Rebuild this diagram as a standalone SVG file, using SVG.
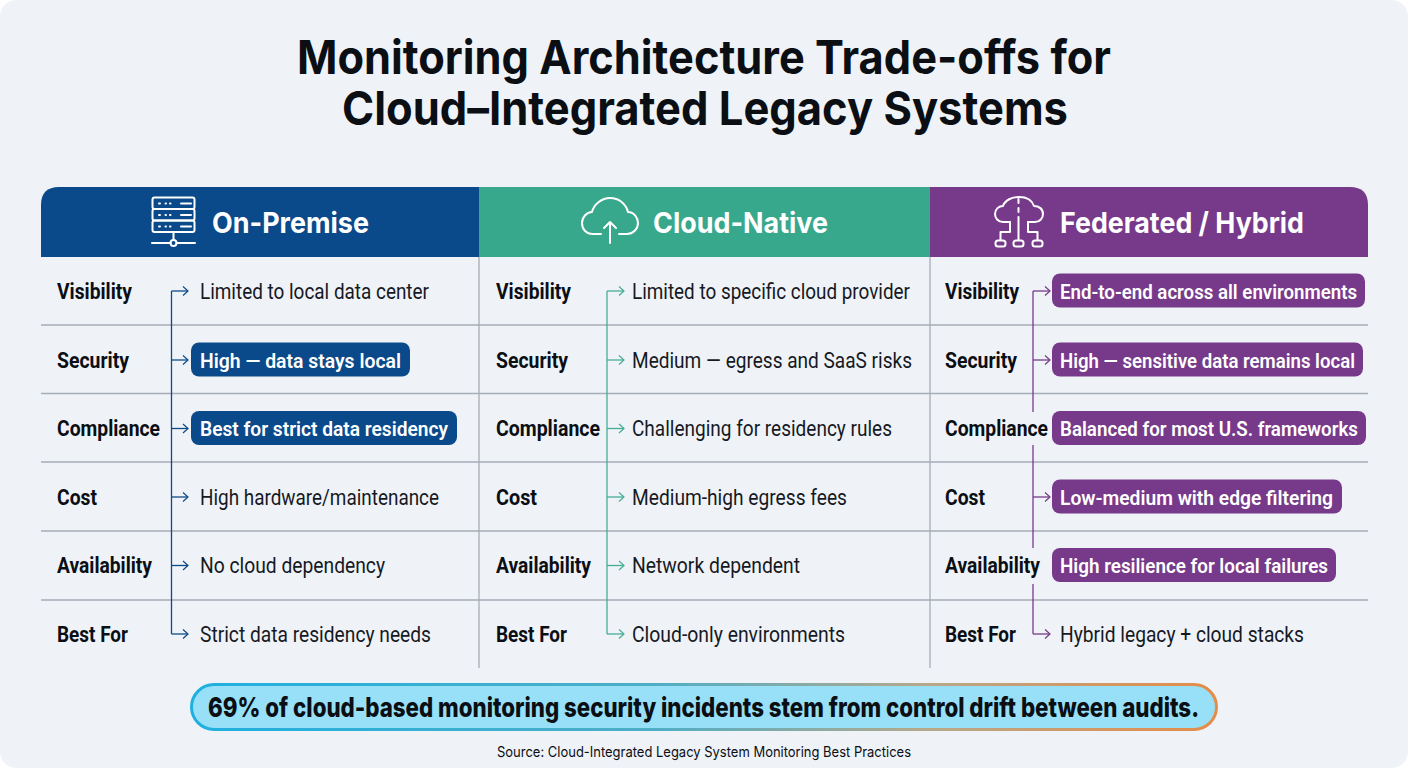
<svg xmlns="http://www.w3.org/2000/svg" width="1408" height="768" viewBox="0 0 1408 768">
<style>
text{font-family:Inter,"Liberation Sans",sans-serif;fill:#0b0f14}
.t{font-size:47px;font-weight:700}
.h{font-size:29px;font-weight:700;fill:#fff}
.l,.v,.p{font-family:Roboto,"Liberation Sans",sans-serif;font-size:21.500px}
.l{font-weight:700}
.v{font-weight:400;fill:#16191f}
.p{font-weight:600;fill:#fff;font-size:21px}
.gl{stroke:#a6acb6;stroke-width:1.300;fill:none}
.ic{fill:none;stroke:#fff;stroke-width:2;stroke-linecap:round;stroke-linejoin:round}
.cb{fill:none;stroke-width:1.300}
.b{stroke:#0d4a88}.g{stroke:#46ad95}.u{stroke:#763a8a}
.bp{fill:#0a4a8a}.up{fill:#773a8a}
</style>
<defs>
<marker id="a" markerUnits="userSpaceOnUse" markerWidth="10" markerHeight="12" refX="8.500" refY="6" orient="auto"><path d="M3.500 1.500L8.500 6L3.500 10.500" fill="none" stroke="context-stroke" stroke-width="1.200"/></marker>
<linearGradient id="cg" x1="0" x2="1" y1="0" y2="0"><stop offset="0" stop-color="#1fb0e0"/><stop offset=".45" stop-color="#4eaec6"/><stop offset=".72" stop-color="#b7a88a"/><stop offset="1" stop-color="#e58c48"/></linearGradient>
</defs>
<rect width="1408" height="768" fill="#fff"/>
<rect width="1408" height="768" rx="16" fill="#eff3f8"/>
<g id="title">
<text class="t" x="297" y="74" textLength="814" lengthAdjust="spacingAndGlyphs">Monitoring Architecture Trade-offs for</text>
<text class="t" x="342" y="125" textLength="726" lengthAdjust="spacingAndGlyphs">Cloud–Integrated Legacy Systems</text>
</g>
<g id="grid">
<path class="gl" d="M41 325H1368M41 393.500H1368M41 462H1368M41 531H1368M41 600H1368M479 257V668M930 257V668"/>
</g>
<g id="header-on-premise">
<path d="M41 257V205Q41 187 59 187H479V257Z" fill="#0a4a8a"/>
<g class="ic"><rect x="152.500" y="197.500" width="42" height="11.500" rx="2"/><rect x="152.500" y="209" width="42" height="11.500" rx="2"/><rect x="152.500" y="220.500" width="42" height="11.500" rx="2"/><path d="M173.500 232V240M152 243H170.500M176.500 243H195M181 203.500H191M181 215H191M181 226.500H191"/><circle cx="173.500" cy="243" r="3"/><path d="M159 203.500h1M165.500 203.500h.5M170 203.500h.5M159 215h1M165.500 215h.5M170 215h.5M159 226.500h1M165.500 226.500h.5M170 226.500h.5"/></g>
<text class="h" x="212" y="232.500" textLength="157" lengthAdjust="spacingAndGlyphs">On-Premise</text>
</g>
<g id="header-cloud-native">
<rect x="479" y="187" width="451" height="70" fill="#38a88c"/>
<g class="ic"><path d="M601 234H593C586 234 582 229 582 223C582 217 587 212 592 212C594 204 602 198 610 198C619 198 626 204 628 212C634 212 638 218 638 223C638 229 633 234 627 234H619"/><path d="M610 243V222M604 228L610 222L616 228"/></g>
<text class="h" x="653" y="232.500" textLength="175" lengthAdjust="spacingAndGlyphs">Cloud-Native</text>
</g>
<g id="header-federated">
<path d="M930 187H1350Q1368 187 1368 205V257H930Z" fill="#773a8a"/>
<g class="ic"><path d="M1010 222H1003C998 222 995 218 995 214C995 209 999 206 1003 206C1005 200 1012 197 1019 197C1026 197 1032 200 1034 206C1039 206 1043 209 1043 214C1043 218 1040 222 1035 222H1028"/><path d="M1018.500 199V203M1018.500 208V212M1018.500 217V240M1010 222V232H1000.500V240M1028 222V232H1037.500V240"/><rect x="995.500" y="240.500" width="10" height="6" rx="2.500"/><rect x="1013.500" y="240.500" width="10" height="6" rx="2.500"/><rect x="1032.500" y="240.500" width="10" height="6" rx="2.500"/></g>
<text class="h" x="1060" y="232.500" textLength="244" lengthAdjust="spacingAndGlyphs">Federated / Hybrid</text>
</g>
<g id="connectors">
<path class="cb b" d="M171.500 291V634"/>
<path class="cb g" d="M607 291V634"/>
<path class="cb u" d="M1033 291V412M1033 445V548M1033 584V634"/>
<g class="cb b">
<path d="M171.500 291H188" marker-end="url(#a)"/><path d="M171.500 360H188" marker-end="url(#a)"/><path d="M171.500 428.500H188" marker-end="url(#a)"/><path d="M171.500 497H188" marker-end="url(#a)"/><path d="M171.500 565.500H188" marker-end="url(#a)"/><path d="M171.500 634H188" marker-end="url(#a)"/>
</g>
<g class="cb g">
<path d="M607 291H624" marker-end="url(#a)"/><path d="M607 360H624" marker-end="url(#a)"/><path d="M607 428.500H624" marker-end="url(#a)"/><path d="M607 497H624" marker-end="url(#a)"/><path d="M607 565.500H624" marker-end="url(#a)"/><path d="M607 634H624" marker-end="url(#a)"/>
</g>
<g class="cb u">
<path d="M1033 291H1050" marker-end="url(#a)"/><path d="M1033 360H1050" marker-end="url(#a)"/><path d="M1033 497H1050" marker-end="url(#a)"/><path d="M1033 634H1050" marker-end="url(#a)"/>
</g>
</g>
<g id="col-on-premise">
<text class="l" x="57" y="298.500" textLength="75" lengthAdjust="spacingAndGlyphs">Visibility</text>
<text class="l" x="57" y="367.500" textLength="72" lengthAdjust="spacingAndGlyphs">Security</text>
<text class="l" x="57" y="436" textLength="103" lengthAdjust="spacingAndGlyphs">Compliance</text>
<text class="l" x="57" y="504.500" textLength="40" lengthAdjust="spacingAndGlyphs">Cost</text>
<text class="l" x="57" y="573" textLength="95" lengthAdjust="spacingAndGlyphs">Availability</text>
<text class="l" x="57" y="641.500" textLength="71" lengthAdjust="spacingAndGlyphs">Best For</text>
<text class="v" x="200" y="298.500" textLength="229" lengthAdjust="spacingAndGlyphs">Limited to local data center</text>
<rect class="bp" x="191" y="342.500" width="219" height="34" rx="8"/>
<text class="p" x="200" y="367.500" textLength="201" lengthAdjust="spacingAndGlyphs">High — data stays local</text>
<rect class="bp" x="191" y="411" width="266" height="34" rx="8"/>
<text class="p" x="200" y="436" textLength="248" lengthAdjust="spacingAndGlyphs">Best for strict data residency</text>
<text class="v" x="200" y="504.500" textLength="239" lengthAdjust="spacingAndGlyphs">High hardware/maintenance</text>
<text class="v" x="200" y="573" textLength="185" lengthAdjust="spacingAndGlyphs">No cloud dependency</text>
<text class="v" x="200" y="641.500" textLength="231" lengthAdjust="spacingAndGlyphs">Strict data residency needs</text>
</g>
<g id="col-cloud-native">
<text class="l" x="496" y="298.500" textLength="75" lengthAdjust="spacingAndGlyphs">Visibility</text>
<text class="l" x="496" y="367.500" textLength="72" lengthAdjust="spacingAndGlyphs">Security</text>
<text class="l" x="496" y="436" textLength="104" lengthAdjust="spacingAndGlyphs">Compliance</text>
<text class="l" x="496" y="504.500" textLength="41" lengthAdjust="spacingAndGlyphs">Cost</text>
<text class="l" x="496" y="573" textLength="95" lengthAdjust="spacingAndGlyphs">Availability</text>
<text class="l" x="496" y="641.500" textLength="71" lengthAdjust="spacingAndGlyphs">Best For</text>
<text class="v" x="632" y="298.500" textLength="278" lengthAdjust="spacingAndGlyphs">Limited to specific cloud provider</text>
<text class="v" x="632" y="367.500" textLength="280" lengthAdjust="spacingAndGlyphs">Medium — egress and SaaS risks</text>
<text class="v" x="632" y="436" textLength="260" lengthAdjust="spacingAndGlyphs">Challenging for residency rules</text>
<text class="v" x="632" y="504.500" textLength="215" lengthAdjust="spacingAndGlyphs">Medium-high egress fees</text>
<text class="v" x="632" y="573" textLength="168" lengthAdjust="spacingAndGlyphs">Network dependent</text>
<text class="v" x="632" y="641.500" textLength="213" lengthAdjust="spacingAndGlyphs">Cloud-only environments</text>
</g>
<g id="col-federated">
<text class="l" x="945" y="298.500" textLength="74" lengthAdjust="spacingAndGlyphs">Visibility</text>
<text class="l" x="945" y="367.500" textLength="72" lengthAdjust="spacingAndGlyphs">Security</text>
<text class="l" x="945" y="436" textLength="103" lengthAdjust="spacingAndGlyphs">Compliance</text>
<text class="l" x="945" y="504.500" textLength="40" lengthAdjust="spacingAndGlyphs">Cost</text>
<text class="l" x="945" y="573" textLength="95" lengthAdjust="spacingAndGlyphs">Availability</text>
<text class="l" x="945" y="641.500" textLength="71" lengthAdjust="spacingAndGlyphs">Best For</text>
<rect class="up" x="1052" y="273.500" width="313" height="34" rx="8"/>
<text class="p" x="1060" y="298.500" textLength="297" lengthAdjust="spacingAndGlyphs">End-to-end across all environments</text>
<rect class="up" x="1052" y="342.500" width="311" height="34" rx="8"/>
<text class="p" x="1060" y="367.500" textLength="295" lengthAdjust="spacingAndGlyphs">High — sensitive data remains local</text>
<rect class="up" x="1052" y="411" width="314" height="34" rx="8"/>
<text class="p" x="1060" y="436" textLength="298" lengthAdjust="spacingAndGlyphs">Balanced for most U.S. frameworks</text>
<rect class="up" x="1052" y="479.500" width="290" height="34" rx="8"/>
<text class="p" x="1060" y="504.500" textLength="273" lengthAdjust="spacingAndGlyphs">Low-medium with edge filtering</text>
<rect class="up" x="1052" y="548" width="284" height="34" rx="8"/>
<text class="p" x="1060" y="573" textLength="268" lengthAdjust="spacingAndGlyphs">High resilience for local failures</text>
<text class="v" x="1060" y="641.500" textLength="244" lengthAdjust="spacingAndGlyphs">Hybrid legacy + cloud stacks</text>
</g>
<g id="callout">
<rect x="191.500" y="684.500" width="1025" height="45" rx="22.500" fill="#97e0f7" stroke="url(#cg)" stroke-width="3"/>
<text x="208" y="717" font-size="27" font-weight="800" textLength="991" lengthAdjust="spacingAndGlyphs">69% of cloud-based monitoring security incidents stem from control drift between audits.</text>
</g>
<g id="source">
<text x="497" y="757" font-size="14.500" fill="#20242a" textLength="414" lengthAdjust="spacingAndGlyphs">Source: Cloud-Integrated Legacy System Monitoring Best Practices</text>
</g>
</svg>
